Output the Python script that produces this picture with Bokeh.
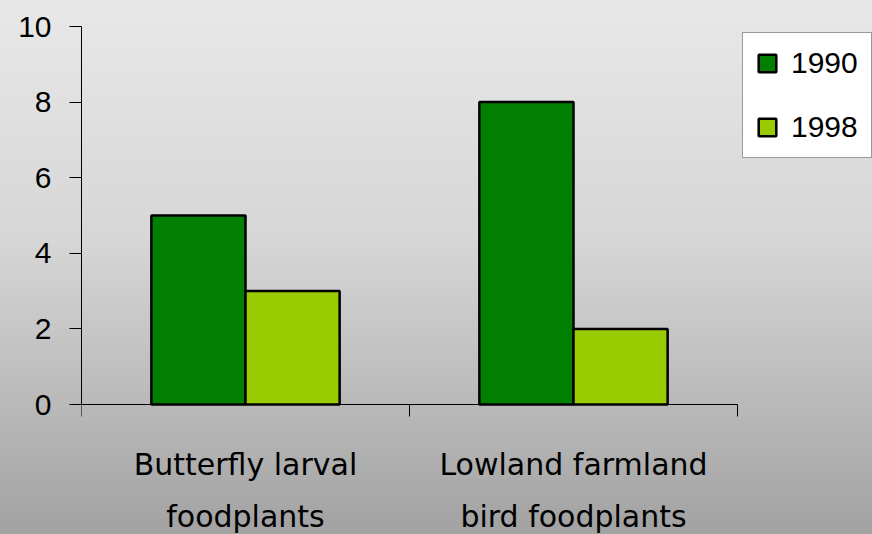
from bokeh.plotting import figure
from bokeh.models import (ColumnDataSource, Range1d, FixedTicker, Legend,
                          LegendItem)
from bokeh.core.properties import value
from bokeh.transform import dodge
from bokeh.embed import file_html
from bokeh.resources import INLINE

# Data
categories = ["Butterfly larval foodplants", "Lowland farmland bird foodplants"]
category_lines = [["Butterfly larval", "foodplants"],
                  ["Lowland farmland", "bird foodplants"]]
years = ["1990", "1998"]
values_1990 = [5, 8]
values_1998 = [3, 2]
y_ticks = [0, 2, 4, 6, 8, 10]

colors = {"1990": "#007f00", "1998": "#99cc00"}

n = len(categories)
source = ColumnDataSource(data=dict(
    x=[i + 0.5 for i in range(n)],
    v1990=values_1990,
    v1998=values_1998,
))

# The frame spans the whole area right of the y axis and below the top margin;
# the visible axes are limited with bounds so the labels and the legend can
# sit inside the frame.
W, H = 872, 534
left, top = 81, 26
px_per_cat = 328.0
px_per_unit = 37.8
x_end = (W - left) / px_per_cat
y_start = 10 - (H - top) / px_per_unit

p = figure(width=W, height=H, output_backend="svg", toolbar_location=None,
           x_range=Range1d(0, x_end), y_range=Range1d(y_start, 10),
           x_axis_location="above",
           min_border_left=left, min_border_right=0,
           min_border_top=top, min_border_bottom=0)

# Gradient background shows through transparent fills
p.styles = {"background": "linear-gradient(to bottom, #e8e8e8 0%, #d6d6d6 45%, #a2a2a2 100%)"}
p.background_fill_alpha = 0
p.border_fill_alpha = 0
p.outline_line_color = None
p.grid.visible = False

bar_w = 0.287
r1 = p.vbar(x=dodge("x", -bar_w / 2, range=p.x_range), top="v1990", width=bar_w,
            source=source, fill_color=colors["1990"], line_color="black", line_width=2.5)
r2 = p.vbar(x=dodge("x", bar_w / 2, range=p.x_range), top="v1998", width=bar_w,
            source=source, fill_color=colors["1998"], line_color="black", line_width=2.5)

num_font = "Liberation Sans"
cat_font = "DejaVu Sans"

# Y axis
ya = p.yaxis[0]
ya.ticker = FixedTicker(ticks=y_ticks)
ya.bounds = (0, 10)
ya.minor_tick_line_color = None
ya.major_tick_in = 0
ya.major_tick_out = 12
ya.major_label_standoff = 18
ya.axis_line_color = "black"
ya.major_tick_line_color = "black"
ya.major_label_text_font = num_font
ya.major_label_text_font_size = "30px"
ya.major_label_text_color = "black"

# X axis drawn at y = 0, ticks at the category boundaries pointing down
xa = p.xaxis[0]
xa.fixed_location = 0
xa.bounds = (0, n)
xa.ticker = FixedTicker(ticks=list(range(n + 1)))
xa.major_label_overrides = {i: "" for i in range(n + 1)}
xa.major_label_text_font_size = "0px"
xa.minor_tick_line_color = None
xa.major_tick_in = 12
xa.major_tick_out = 0
xa.axis_line_color = "black"
xa.major_tick_line_color = "black"

# Two-line category labels under the axis
lab_x, lab_y, lab_t = [], [], []
for i, lines in enumerate(category_lines):
    for j, line in enumerate(lines):
        lab_x.append(i + 0.5)
        lab_y.append(-(60 + 52 * j) / px_per_unit)
        lab_t.append(line)
p.text(x=lab_x, y=lab_y, text=lab_t, text_align="center",
       text_baseline="alphabetic", text_font=value(cat_font),
       text_font_size="30px", text_color="black")

legend = Legend(items=[LegendItem(label="1990", renderers=[r1]),
                       LegendItem(label="1998", renderers=[r2])],
                location=(742 - left, H - 158), orientation="vertical",
                glyph_width=22, glyph_height=22, label_standoff=13,
                spacing=30, padding=13, margin=0,
                label_text_font=num_font, label_text_font_size="30px",
                label_text_color="black",
                border_line_color="#333333", border_line_width=1,
                background_fill_color="white", background_fill_alpha=1)
p.add_layout(legend, "center")

open("out.html", "w").write(file_html(p, INLINE))
